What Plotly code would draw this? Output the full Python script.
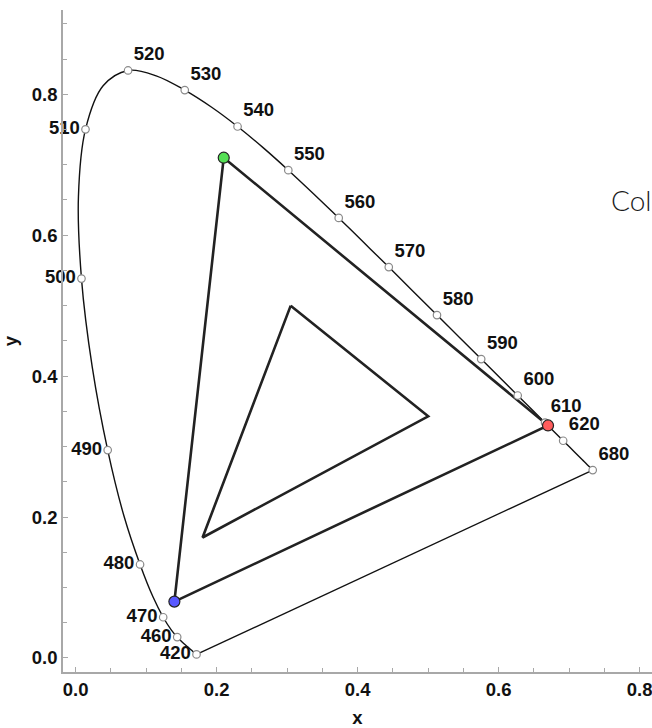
import plotly.graph_objects as go

# CIE 1931 spectral locus (5 nm steps, 420-680 nm)
locus_nm = [420, 425, 430, 435, 440, 445, 450, 455, 460, 465, 470, 475, 480, 485, 490,
            495, 500, 505, 510, 515, 520, 525, 530, 535, 540, 545, 550, 555, 560, 565,
            570, 575, 580, 585, 590, 595, 600, 605, 610, 615, 620, 625, 630, 635, 640,
            645, 650, 655, 660, 665, 670, 675, 680]
locus_x = [0.1714, 0.1703, 0.1689, 0.1669, 0.1644, 0.1611, 0.1566, 0.1510, 0.1440, 0.1355,
           0.1241, 0.1096, 0.0913, 0.0687, 0.0454, 0.0235, 0.0082, 0.0039, 0.0139, 0.0389,
           0.0743, 0.1142, 0.1547, 0.1929, 0.2296, 0.2658, 0.3016, 0.3373, 0.3731, 0.4087,
           0.4441, 0.4788, 0.5125, 0.5448, 0.5752, 0.6029, 0.6270, 0.6482, 0.6658, 0.6801,
           0.6915, 0.7006, 0.7079, 0.7140, 0.7190, 0.7230, 0.7260, 0.7283, 0.7300, 0.7311,
           0.7320, 0.7327, 0.7334]
locus_y = [0.0051, 0.0058, 0.0069, 0.0086, 0.0109, 0.0138, 0.0177, 0.0227, 0.0297, 0.0399,
           0.0578, 0.0868, 0.1327, 0.2007, 0.2950, 0.4127, 0.5384, 0.6548, 0.7502, 0.8120,
           0.8338, 0.8262, 0.8059, 0.7816, 0.7543, 0.7243, 0.6923, 0.6589, 0.6245, 0.5896,
           0.5547, 0.5202, 0.4866, 0.4544, 0.4242, 0.3965, 0.3725, 0.3514, 0.3340, 0.3197,
           0.3083, 0.2993, 0.2920, 0.2859, 0.2809, 0.2770, 0.2740, 0.2717, 0.2700, 0.2689,
           0.2680, 0.2673, 0.2666]

# Labelled wavelengths
label_nm = [420, 460, 470, 480, 490, 500, 510, 520, 530, 540, 550, 560, 570, 580, 590,
            600, 610, 620, 680]
label_pos = ["middle left"] * 7 + ["top right"] * 12

# Primaries (NTSC-like) and inner gamut
prim_names = ["G", "R", "B"]
prim_x = [0.21, 0.67, 0.14]
prim_y = [0.71, 0.33, 0.08]
prim_colors = ["#55e055", "#ff5c5c", "#5858ff"]

inner_x = [0.305, 0.50, 0.18]
inner_y = [0.50, 0.343, 0.171]

lab_x = [locus_x[locus_nm.index(n)] for n in label_nm]
lab_y = [locus_y[locus_nm.index(n)] for n in label_nm]

FONT = "Liberation Sans"
FS = 18.5

fig = go.Figure()

# spectral locus (smooth)
fig.add_trace(go.Scatter(
    x=locus_x, y=locus_y, mode="lines",
    line=dict(color="#111111", width=1.4, shape="spline", smoothing=1.0),
    hoverinfo="skip", showlegend=False, cliponaxis=False))

# purple line closing the locus
fig.add_trace(go.Scatter(
    x=[locus_x[-1], locus_x[0]], y=[locus_y[-1], locus_y[0]], mode="lines",
    line=dict(color="#111111", width=1.4),
    hoverinfo="skip", showlegend=False, cliponaxis=False))

# inner triangle
fig.add_trace(go.Scatter(
    x=inner_x + [inner_x[0]], y=inner_y + [inner_y[0]], mode="lines",
    line=dict(color="#222222", width=2.6), showlegend=False))

# primaries triangle
fig.add_trace(go.Scatter(
    x=prim_x + [prim_x[0]], y=prim_y + [prim_y[0]], mode="lines",
    line=dict(color="#222222", width=2.6), showlegend=False))

# wavelength markers
fig.add_trace(go.Scatter(
    x=lab_x, y=lab_y, mode="markers+text",
    text=[str(n) for n in label_nm], textposition=label_pos,
    textfont=dict(family=FONT, size=FS, color="#111111", weight="bold"),
    marker=dict(size=7.5, color="white", line=dict(color="#8a8a8a", width=1.2)),
    showlegend=False, cliponaxis=False))

# primary markers
fig.add_trace(go.Scatter(
    x=prim_x, y=prim_y, mode="markers",
    marker=dict(size=11, color=prim_colors, line=dict(color="#222222", width=1.2)),
    showlegend=False, cliponaxis=False))

fig.add_annotation(
    x=0.756, y=0.65, xref="x", yref="y", text="Color gamut", showarrow=False,
    xanchor="left", yanchor="middle",
    font=dict(family="Lato", size=28, color="#1a1a1a", weight=300))

axis_common = dict(
    showline=True, linecolor="#a8a8a8", linewidth=1.6,
    ticks="inside", ticklen=5, tickcolor="#a8a8a8", tickwidth=1.4,
    dtick=0.2, tick0=0, tickformat=".1f", ticklabeloverflow="allow",
    minor=dict(dtick=0.05, ticks="inside", ticklen=4, tickcolor="#a8a8a8", tickwidth=1.2),
    showgrid=False, zeroline=False,
    tickfont=dict(family=FONT, size=FS, color="#111111", weight="bold"),
)

fig.update_xaxes(range=[-0.018, 0.8175], title=dict(text="x", standoff=15,
                 font=dict(family=FONT, size=FS, color="#111111", weight="bold")),
                 **axis_common)
fig.update_yaxes(range=[-0.0199, 0.9196], title=dict(text="y", standoff=11,
                 font=dict(family=FONT, size=FS, color="#111111", weight="bold")),
                 **axis_common)

fig.update_layout(
    width=652, height=728,
    margin=dict(l=63, r=0, t=10, b=56),
    plot_bgcolor="white", paper_bgcolor="white",
    showlegend=False,
)

fig.write_html("out.html", config={"displayModeBar": False},
               post_script="document.body.style.margin='0';")
